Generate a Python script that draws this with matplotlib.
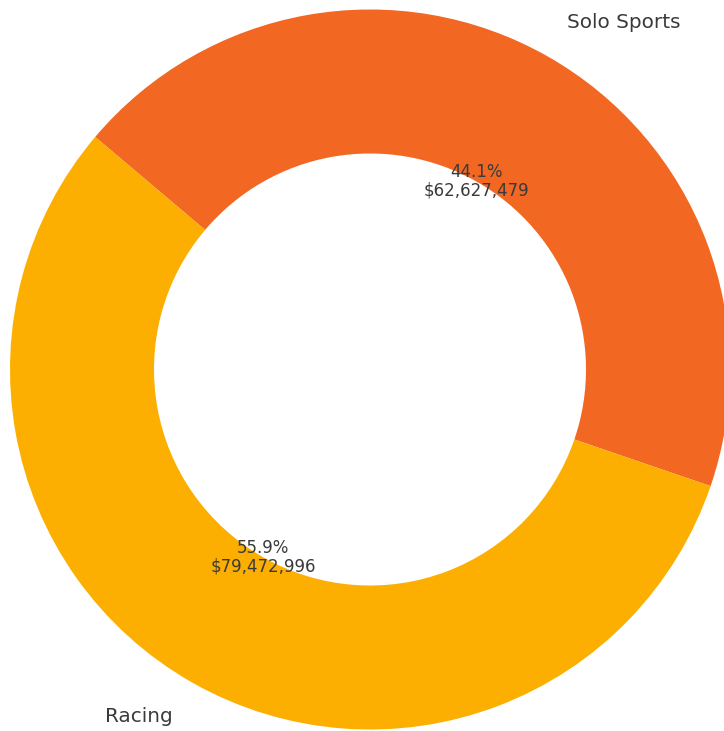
import matplotlib.pyplot as plt

labels = ["Solo Sports", "Racing"]
sales = [62627479, 79472996]
colors = ["#F26722", "#FCAF00"]

# autopct is called once per wedge, in order, so walk the raw values alongside
value_iter = iter(sales)


def fmt(pct):
    value = next(value_iter)
    return f"{pct:.1f}%\n${value:,}"


fig = plt.figure(figsize=(7.24, 7.31), dpi=100)
ax = fig.add_axes([0, 0, 1, 1])

wedges, texts, autotexts = ax.pie(
    sales,
    labels=labels,
    colors=colors,
    startangle=-18.9,
    autopct=fmt,
    pctdistance=0.6,
    labeldistance=1.108,
    wedgeprops=dict(width=0.4),
    textprops=dict(color="#3a3a3a"),
)
for t in texts:
    t.set_fontsize(14.4)
for t in autotexts:
    t.set_fontsize(12)
    t.set_linespacing(1.05)

# center of the ring sits at (370, 369.5) px, radius 360 px
scale = 360.0
ax.set_aspect("auto")
ax.set_xlim(-370 / scale, (724 - 370) / scale)
ax.set_ylim(-(731 - 369.5) / scale, 369.5 / scale)
ax.axis("off")

fig.savefig("out.png", dpi=100)
